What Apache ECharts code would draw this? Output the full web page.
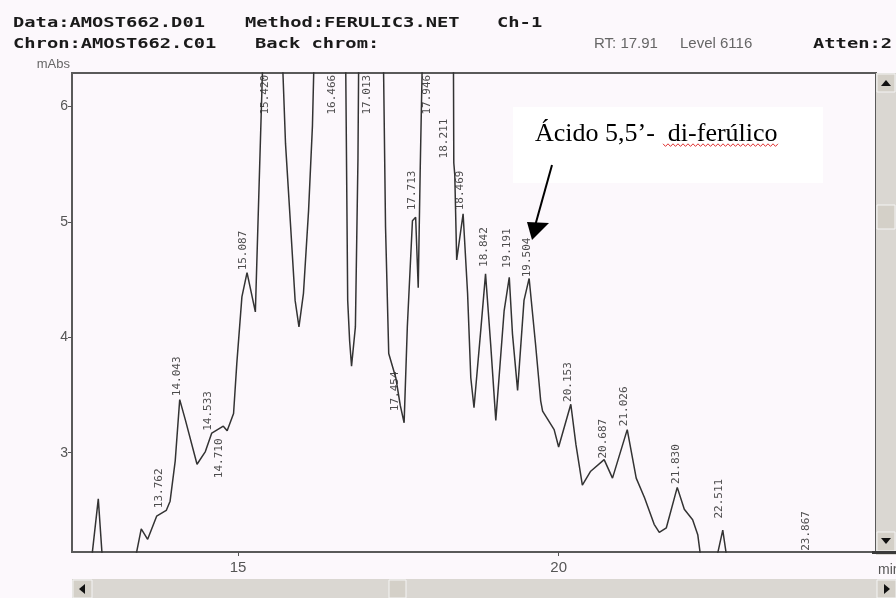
<!DOCTYPE html>
<html>
<head>
<meta charset="utf-8">
<script src="https://cdn.jsdelivr.net/npm/echarts@6.0.0/dist/echarts.min.js"></script>
<style>
  html, body { margin: 0; padding: 0; background: #fcf8fc; }
  #chart { width: 896px; height: 598px; }
</style>
</head>
<body>
<div id="chart"></div>
<script>
// retention time (min) and detector signal (mAbs)
const times = [12.41, 12.69, 12.82, 12.90, 13.35, 13.49, 13.59, 13.73, 13.88, 13.94,
  14.02, 14.09, 14.18, 14.36, 14.49, 14.59, 14.77, 14.83, 14.93, 14.98,
  15.06, 15.14, 15.27, 15.34, 15.38, 15.54, 15.70, 15.74, 15.82, 15.89,
  15.95, 16.02, 16.10, 16.16, 16.18, 16.43, 16.68, 16.71, 16.74, 16.77,
  16.83, 16.87, 16.88, 17.07, 17.27, 17.30, 17.35, 17.46, 17.53, 17.59,
  17.64, 17.72, 17.77, 17.81, 17.84, 17.87, 18.11, 18.36, 18.365, 18.38,
  18.41, 18.51, 18.58, 18.63, 18.68, 18.79, 18.86, 18.94, 19.02, 19.15,
  19.23, 19.28, 19.36, 19.46, 19.54, 19.64, 19.72, 19.75, 19.93, 20.00,
  20.19, 20.27, 20.37, 20.50, 20.71, 20.84, 21.07, 21.21, 21.34, 21.49,
  21.57, 21.68, 21.85, 21.96, 22.09, 22.17, 22.25, 22.41, 22.56, 22.66, 24.95];
const absorbance = [1.95, 1.95, 2.60, 1.95, 1.95, 2.34, 2.25, 2.45, 2.50, 2.58,
  2.93, 3.46, 3.28, 2.90, 3.01, 3.17, 3.23, 3.19, 3.34, 3.77,
  4.35, 4.56, 4.22, 5.54, 6.29, 8.5, 6.29, 5.68, 4.96, 4.32,
  4.09, 4.38, 5.10, 5.83, 6.29, 9.0, 6.29, 4.32, 3.97, 3.75,
  4.09, 5.54, 6.29, 9.0, 6.29, 4.96, 3.86, 3.65, 3.41, 3.26,
  4.09, 5.01, 5.04, 4.43, 5.42, 6.29, 9.0, 6.29, 5.51, 5.41,
  4.67, 5.07, 4.38, 3.65, 3.39, 4.09, 4.55, 3.94, 3.28, 4.23,
  4.52, 4.03, 3.54, 4.32, 4.51, 3.94, 3.45, 3.36, 3.20, 3.05,
  3.42, 3.07, 2.72, 2.84, 2.94, 2.78, 3.20, 2.78, 2.61, 2.38,
  2.31, 2.35, 2.70, 2.51, 2.42, 2.29, 1.95, 1.95, 2.33, 1.95, 1.95];

// integrated peaks: retention time and where its label starts
const peakRT = [13.762, 14.043, 14.533, 14.710, 15.087, 15.420, 16.466, 17.013, 17.454, 17.713,
  17.946, 18.211, 18.469, 18.842, 19.191, 19.504, 20.153, 20.687, 21.026, 21.830, 22.511, 23.867];
const peakLabelLevel = [2.52, 3.49, 3.19, 2.78, 4.58, 5.93, 5.93, 5.93, 3.36, 5.10,
  5.93, 5.55, 5.10, 4.61, 4.60, 4.52, 3.44, 2.95, 3.23, 2.73, 2.43, 2.15];

const xTicks = [15, 20];
const yTicks = [3, 4, 5, 6];

const chart = echarts.init(document.getElementById('chart'));

function header(text, x, y) {
  return {
    type: 'text', x: x, y: y, scaleX: 1.34,
    style: { text: text, font: 'bold 14px "DejaVu Sans Mono"', fill: '#1a1a1a', verticalAlign: 'middle' }
  };
}

function btn(x, y, w, h) {
  return {
    type: 'rect', shape: { x: x, y: y, width: w, height: h },
    style: { fill: '#d4d0c8', stroke: '#f4f4f4', lineWidth: 1 }, z: 11
  };
}

function tri(points) {
  return { type: 'polygon', shape: { points: points }, style: { fill: '#111' }, z: 12 };
}

// red spell-check squiggle under "di-ferúlico"
const squiggle = [];
for (let i = 0, x = 663; x <= 778; x += 2.5, i++) {
  squiggle.push([x, 145 + (i % 2 ? 1.4 : -1.2)]);
}

chart.setOption({
  animation: false,
  backgroundColor: '#fcf8fc',
  grid: {
    left: 72, top: 73, right: 20, bottom: 46,
    outerBoundsMode: 'none',
    show: true, borderColor: '#5a5a5a', borderWidth: 2, backgroundColor: 'transparent'
  },
  xAxis: {
    type: 'value', min: 12.41, max: 24.95,
    name: 'min', nameLocation: 'end', nameGap: 2,
    nameTextStyle: { color: '#555', fontSize: 14, fontFamily: 'Liberation Sans', verticalAlign: 'top', align: 'left', padding: [11, 0, 0, 0] },
    axisLine: { show: false },
    axisTick: { show: true, customValues: xTicks, length: 4, lineStyle: { color: '#555' } },
    axisLabel: { customValues: xTicks, color: '#555', fontSize: 15, fontFamily: 'Liberation Sans', margin: 8 },
    splitLine: { show: false }
  },
  yAxis: {
    type: 'value', min: 2.14, max: 6.29,
    name: 'mAbs', nameLocation: 'end', nameGap: 2,
    nameTextStyle: { color: '#666', fontSize: 13, fontFamily: 'Liberation Sans', align: 'right', padding: [0, 2, 0, 0] },
    axisLine: { show: false },
    axisTick: { show: true, customValues: yTicks, length: 4, lineStyle: { color: '#555' } },
    axisLabel: { customValues: yTicks, color: '#555', fontSize: 14, fontFamily: 'Liberation Sans', margin: 4 },
    splitLine: { show: false }
  },
  series: [
    {
      type: 'line',
      data: times.map((t, i) => [t, absorbance[i]]),
      showSymbol: false,
      clip: true,
      silent: true,
      lineStyle: { color: '#333', width: 1.5 }
    },
    {
      type: 'scatter',
      data: peakRT.map((t, i) => ({ value: [t, peakLabelLevel[i]], name: t.toFixed(3) })),
      symbolSize: 0,
      silent: true,
      label: {
        show: true, formatter: '{b}', rotate: 90, position: 'inside',
        align: 'left', verticalAlign: 'middle',
        fontFamily: 'DejaVu Sans Mono', fontSize: 11, color: '#1e1e1e'
      }
    }
  ],
  graphic: [
    header('Data:AMOST662.D01', 13, 23),
    header('Method:FERULIC3.NET', 245, 23),
    header('Ch-1', 497, 23),
    header('Chron:AMOST662.C01', 13, 44),
    header('Back chrom:', 255, 44),
    header('Atten:2', 813, 44),
    { type: 'text', x: 594, y: 44, style: { text: 'RT: 17.91', font: '15px "Liberation Sans"', fill: '#666', verticalAlign: 'middle' } },
    { type: 'text', x: 680, y: 44, style: { text: 'Level 6116', font: '15px "Liberation Sans"', fill: '#666', verticalAlign: 'middle' } },

    // annotation box
    { type: 'rect', shape: { x: 513, y: 107, width: 310, height: 76 }, style: { fill: '#ffffff' }, z: 5 },
    { type: 'text', x: 535, y: 134, style: { text: 'Ácido 5,5’-  di-ferúlico', font: '26px "Liberation Serif"', fill: '#000', verticalAlign: 'middle' }, z: 6 },
    { type: 'polyline', shape: { points: squiggle }, style: { stroke: '#e03030', lineWidth: 1, fill: null }, z: 6 },
    { type: 'line', shape: { x1: 552, y1: 165, x2: 535, y2: 226 }, style: { stroke: '#000', lineWidth: 2 }, z: 6 },
    { type: 'polygon', shape: { points: [[527, 222], [549, 223], [532, 240]] }, style: { fill: '#000' }, z: 6 },

    // vertical scrollbar
    { type: 'rect', shape: { x: 876, y: 73, width: 20, height: 482 }, style: { fill: '#dad7d2' }, z: 10 },
    btn(877, 74, 18, 18), tri([[881, 86], [891, 86], [886, 80]]),
    btn(877, 205, 18, 24),
    btn(877, 532, 18, 19), tri([[881, 538], [891, 538], [886, 544]]),
    { type: 'rect', shape: { x: 872, y: 551, width: 24, height: 3 }, style: { fill: '#3a3a3a' }, z: 12 },

    // horizontal scrollbar
    { type: 'rect', shape: { x: 72, y: 579, width: 824, height: 19 }, style: { fill: '#dad7d2' }, z: 10 },
    btn(73, 580, 19, 18), tri([[85, 584], [85, 594], [79, 589]]),
    btn(389, 580, 17, 18),
    btn(877, 580, 19, 18), tri([[884, 584], [884, 594], [890, 589]])
  ]
});
</script>
</body>
</html>
